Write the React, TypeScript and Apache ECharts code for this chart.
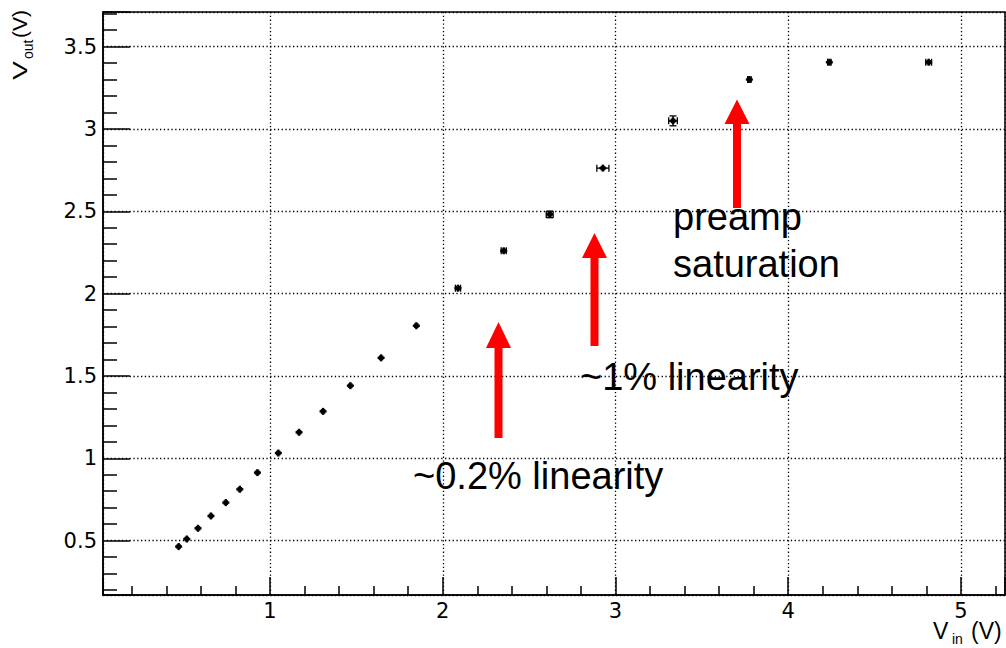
import React, { useEffect, useRef } from 'react';
import * as echarts from 'echarts';

// Measured points: input voltage (V), output voltage (V) and their errors
const vIn = [0.471, 0.518, 0.583, 0.658, 0.744, 0.825, 0.927, 1.048, 1.168, 1.307, 1.465, 1.643, 1.847, 2.088, 2.353, 2.619, 2.927, 3.333, 3.775, 4.238, 4.813];
const vOut = [0.464, 0.51, 0.575, 0.65, 0.731, 0.812, 0.913, 1.032, 1.158, 1.285, 1.441, 1.61, 1.805, 2.033, 2.26, 2.481, 2.762, 3.049, 3.3, 3.405, 3.405];
const vInErr = [0, 0, 0, 0, 0, 0, 0, 0, 0, 0, 0, 0, 0, 0.015, 0.015, 0.02, 0.035, 0.025, 0.01, 0.01, 0.017];
const vOutErr = [0, 0, 0, 0, 0, 0, 0, 0, 0, 0, 0, 0, 0, 0, 0, 0.02, 0, 0.03, 0, 0, 0];

const xRange = [0.033, 5.255];
const yRange = [0.17, 3.71];
const xStep = 1;
const yStep = 0.5;

const annotations = ['~0.2% linearity', '~1% linearity', 'preamp', 'saturation'];

const SANS = '"Liberation Sans", Arial, Helvetica, sans-serif';
const TICKFONT = '"DejaVu Sans", sans-serif';

function arrow(cx: number, tip: number, base: number, bottom: number) {
  return {
    type: 'polygon',
    z: 50,
    shape: {
      points: [
        [cx - 4, bottom], [cx - 4, base], [cx - 12.5, base], [cx, tip],
        [cx + 12.5, base], [cx + 4, base], [cx + 4, bottom],
      ],
    },
    style: { fill: '#ff0000' },
  };
}

function label(text: string, x: number, baseline: number, fs: number, extra: any = {}) {
  return {
    type: 'text',
    z: 60,
    x,
    y: baseline - 0.3465 * fs,
    ...extra,
    style: {
      text,
      fontFamily: SANS,
      fontSize: fs,
      fill: '#000',
      align: 'left',
      verticalAlign: 'middle',
    },
  };
}

export default function App() {
  const ref = useRef<HTMLDivElement>(null);

  useEffect(() => {
    const chart = echarts.init(ref.current!, null, { renderer: 'svg' });
    const data = vIn.map((x, i) => [x, vOut[i], vInErr[i], vOutErr[i]]);
    const dotted = { color: '#000', width: 1.3, type: [1.3, 2.5] };

    chart.setOption({
      animation: false,
      backgroundColor: '#fff',
      grid: {
        left: 103, top: 12, right: 1, bottom: 53,
        show: true, borderColor: '#000', borderWidth: 1.5, backgroundColor: '#fff',
        containLabel: false, outerBoundsMode: 'none',
      },
      xAxis: {
        type: 'value',
        min: xRange[0], max: xRange[1],
        splitNumber: 5, minInterval: xStep, maxInterval: xStep,
        axisLine: { show: true, lineStyle: { color: '#000', width: 1.5 } },
        axisTick: { show: true, inside: true, length: 18, lineStyle: { color: '#000', width: 1.5 } },
        minorTick: { show: true, splitNumber: 5, length: 9, lineStyle: { color: '#000', width: 1.5 } },
        splitLine: { show: true, lineStyle: dotted },
        axisLabel: {
          color: '#000', fontFamily: TICKFONT, fontSize: 21, margin: 5,
          showMinLabel: false, showMaxLabel: false,
        },
      },
      yAxis: {
        type: 'value',
        min: yRange[0], max: yRange[1],
        splitNumber: 7, minInterval: yStep, maxInterval: yStep,
        axisLine: { show: true, lineStyle: { color: '#000', width: 1.5 } },
        axisTick: { show: true, inside: true, length: 27, lineStyle: { color: '#000', width: 1.5 } },
        minorTick: { show: true, splitNumber: 5, length: 14, lineStyle: { color: '#000', width: 1.5 } },
        splitLine: { show: true, lineStyle: dotted },
        axisLabel: {
          color: '#000', fontFamily: TICKFONT, fontSize: 21, margin: 6,
          showMinLabel: false, showMaxLabel: false,
        },
      },
      series: [
        {
          type: 'custom',
          clip: false,
          z: 40,
          encode: { x: 0, y: 1 },
          data,
          renderItem: (params: any, api: any) => {
            const x = api.value(0), y = api.value(1), ex = api.value(2), ey = api.value(3);
            const c = api.coord([x, y]);
            const st = { stroke: '#000', lineWidth: 1.3 };
            const ch: any[] = [
              { type: 'rect', shape: { x: c[0] - 3.5, y: c[1] - 1.2, width: 7, height: 2.4 }, style: { fill: '#000' } },
              { type: 'rect', shape: { x: c[0] - 1.2, y: c[1] - 3.5, width: 2.4, height: 7 }, style: { fill: '#000' } },
              { type: 'rect', shape: { x: c[0] - 2.3, y: c[1] - 2.3, width: 4.6, height: 4.6 }, style: { fill: '#000' } },
            ];
            if (ex > 0) {
              const a = api.coord([x - ex, y]), b = api.coord([x + ex, y]);
              ch.push({ type: 'line', shape: { x1: a[0], y1: a[1], x2: b[0], y2: b[1] }, style: st });
              ch.push({ type: 'line', shape: { x1: a[0], y1: a[1] - 3.5, x2: a[0], y2: a[1] + 3.5 }, style: st });
              ch.push({ type: 'line', shape: { x1: b[0], y1: b[1] - 3.5, x2: b[0], y2: b[1] + 3.5 }, style: st });
            }
            if (ey > 0) {
              const a = api.coord([x, y - ey]), b = api.coord([x, y + ey]);
              ch.push({ type: 'line', shape: { x1: a[0], y1: a[1], x2: b[0], y2: b[1] }, style: st });
              ch.push({ type: 'line', shape: { x1: a[0] - 3.5, y1: a[1], x2: a[0] + 3.5, y2: a[1] }, style: st });
              ch.push({ type: 'line', shape: { x1: b[0] - 3.5, y1: b[1], x2: b[0] + 3.5, y2: b[1] }, style: st });
            }
            return { type: 'group', children: ch };
          },
        },
      ],
      graphic: [
        arrow(498.5, 322, 348, 438),
        arrow(594.5, 233, 258, 346),
        arrow(737, 99.5, 124, 208),
        label(annotations[0], 413, 489, 38),
        label(annotations[1], 580, 390, 38),
        label(annotations[2], 673, 230, 38),
        label(annotations[3], 673, 277.5, 38),
        // x axis title: V_in (V)
        label('V', 933, 639, 23),
        label('in', 952, 644, 14),
        label('(V)', 971, 639, 23),
        // y axis title: V_out(V), rotated
        { type: 'text', z: 60, x: 27 - 0.3465 * 21, y: 80, rotation: Math.PI / 2, scaleX: 1.35,
          style: { text: 'V', fontFamily: SANS, fontSize: 21, fill: '#000', align: 'left', verticalAlign: 'middle' } },
        { type: 'text', z: 60, x: 33 - 0.3465 * 14, y: 59, rotation: Math.PI / 2,
          style: { text: 'out', fontFamily: SANS, fontSize: 14, fill: '#000', align: 'left', verticalAlign: 'middle' } },
        { type: 'text', z: 60, x: 27 - 0.3465 * 21, y: 38, rotation: Math.PI / 2,
          style: { text: '(V)', fontFamily: SANS, fontSize: 21, fill: '#000', align: 'left', verticalAlign: 'middle' } },
      ],
    });

    return () => chart.dispose();
  }, []);

  return (
    <div
      ref={ref}
      style={{ position: 'fixed', left: 0, top: 0, width: 1006, height: 648, background: '#fff' }}
    />
  );
}
